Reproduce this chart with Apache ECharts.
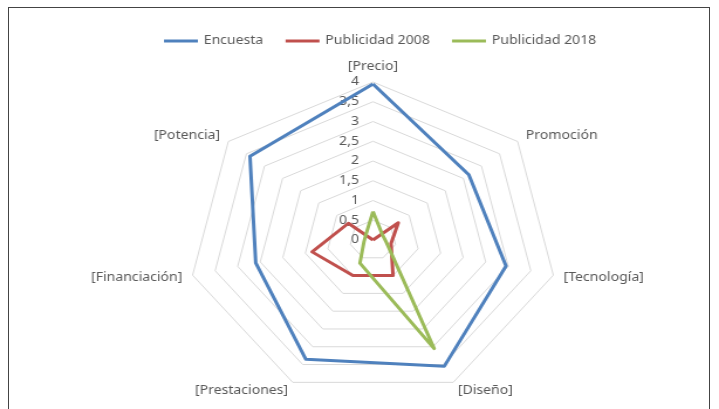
<!DOCTYPE html>
<html>
<head>
<meta charset="utf-8">
<script src="https://cdn.jsdelivr.net/npm/echarts@6/dist/echarts.min.js"></script>
<style>
  html, body { margin: 0; padding: 0; background: #ffffff; overflow: hidden; }
  #frame { position: absolute; left: 8px; top: 7px; width: 702px; height: 430px; border: 1px solid #444; box-sizing: border-box; }
  #wrap { position: absolute; left: 0; top: 0; width: 614px; height: 409px; transform-origin: 0 0; transform: scaleX(1.17101); }
  #main { width: 614px; height: 409px; }
</style>
</head>
<body>
<div id="frame"></div>
<div id="wrap"><div id="main"></div></div>
<script>
// Data (reference order, clockwise from top)
const categories = ['[Precio]', 'Promoción', '[Tecnología]', '[Diseño]', '[Prestaciones]', '[Financiación]', '[Potencia]'];
const encuesta = [3.95, 2.65, 2.95, 3.55, 3.35, 2.6, 3.4];
const publicidad2008 = [0, 0.7, 0.4, 1.0, 1.0, 1.35, 0.68];
const publicidad2018 = [0.72, 0.25, 0.3, 3.05, 0.65, 0.2, 0.2];
const tickLabels = ['0', '0,5', '1', '1,5', '2', '2,5', '3', '3,5', '4'];
const seriesNames = ['Encuesta', 'Publicidad 2008', 'Publicidad 2018'];
const colors = ['#4F81BD', '#C0504D', '#9BBB59'];

// ECharts radar runs counter-clockwise; reorder so indicators appear clockwise
const order = [0, 6, 5, 4, 3, 2, 1];
const reorder = arr => order.map(i => arr[i]);

const cx = 318.5, cy = 240, R = 158;
const txt = '#595959';
const font = 'Noto Sans';

const chart = echarts.init(document.getElementById('main'), null, { renderer: 'canvas' });
chart.setOption({
  animation: false,
  color: colors,
  textStyle: { fontFamily: font },
  legend: {
    left: 135, top: 30,
    icon: 'rect', itemWidth: 29, itemHeight: 3, itemGap: 19,
    textStyle: { color: txt, fontSize: 12, fontFamily: font },
    data: seriesNames
  },
  radar: {
    center: [cx, cy],
    radius: R,
    shape: 'polygon',
    splitNumber: 8,
    nameGap: 9,
    axisName: { color: txt, fontSize: 12, fontFamily: font },
    axisLine: { show: false },
    axisTick: { show: false },
    axisLabel: { show: false },
    splitArea: { show: false },
    splitLine: { lineStyle: { color: '#d9d9d9', width: 1 } },
    indicator: reorder(categories).map(n => ({ name: n, min: 0, max: 4 }))
  },
  grid: { left: cx, top: cy - R, width: 1, height: R },
  xAxis: { type: 'value', show: false },
  yAxis: {
    type: 'value', min: 0, max: 4, interval: 0.5,
    axisLine: { show: false }, axisTick: { show: false }, splitLine: { show: false },
    axisLabel: {
      color: txt, fontSize: 12, fontFamily: font, margin: 12,
      formatter: v => tickLabels[Math.round(v / 0.5)]
    }
  },
  series: [{
    type: 'radar',
    symbol: 'none',
    lineStyle: { width: 3 },
    data: [
      { name: seriesNames[0], value: reorder(encuesta), lineStyle: { color: colors[0], width: 3 } },
      { name: seriesNames[1], value: reorder(publicidad2008), lineStyle: { color: colors[1], width: 3 } },
      { name: seriesNames[2], value: reorder(publicidad2018), lineStyle: { color: colors[2], width: 3 } }
    ]
  }]
});
</script>
</body>
</html>
